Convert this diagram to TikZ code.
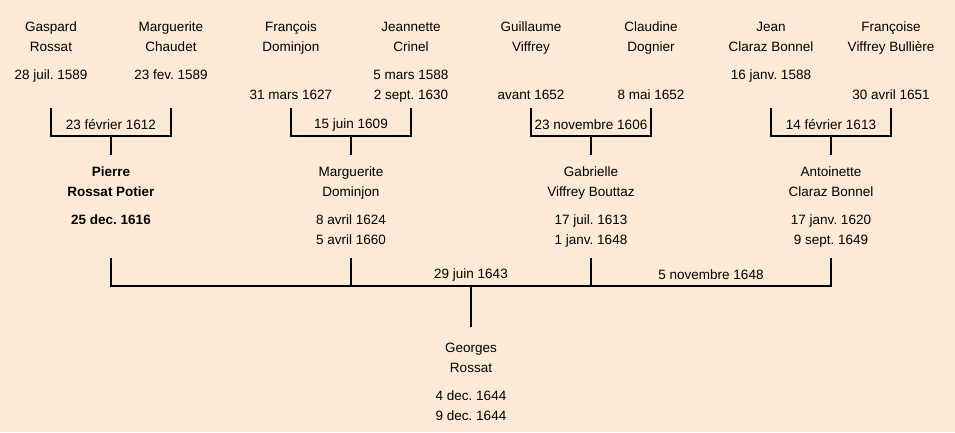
\documentclass[tikz,border=0pt]{standalone}
\usepackage{fontspec}
\setmainfont{Liberation Sans}
\frenchspacing
\definecolor{bg}{HTML}{FCEAD7}
\begin{document}
\begin{tikzpicture}[x=1pt,y=-1pt,
  person/.style={anchor=north,align=center,inner sep=0pt,font={\fontsize{13.5}{20}\selectfont\frenchspacing}},
  lbl/.style={inner sep=0pt,font={\fontsize{13.5}{16}\selectfont\frenchspacing}},
  link/.style={line width=2pt}]
\fill[bg] (0,0) rectangle (955,432);
\useasboundingbox (0,0) rectangle (955,432);
% parents
\node[person] (gaspard) at (51,22) {Gaspard\\Rossat\\[8pt]28 juil. 1589\\\mbox{}};
\node[person] (marguerite1) at (171,22) {Marguerite\\Chaudet\\[8pt]23 fev. 1589\\\mbox{}};
\node[person] (francois) at (291,22) {François\\Dominjon\\[8pt]\mbox{}\\31 mars 1627};
\node[person] (jeannette) at (411,22) {Jeannette\\Crinel\\[8pt]5 mars 1588\\2 sept. 1630};
\node[person] (guillaume) at (531,22) {Guillaume\\Viffrey\\[8pt]\mbox{}\\avant 1652};
\node[person] (claudine) at (651,22) {Claudine\\Dognier\\[8pt]\mbox{}\\8 mai 1652};
\node[person] (jean) at (771,22) {Jean\\Claraz Bonnel\\[8pt]16 janv. 1588\\\mbox{}};
\node[person] (francoise) at (891,22) {Françoise\\Viffrey Bullière\\[8pt]\mbox{}\\30 avril 1651};
% children
\node[person,font={\fontsize{13.5}{20}\selectfont\bfseries\frenchspacing}] (pierre) at (111,167) {Pierre\\Rossat Potier\\[8pt]25 dec. 1616};
\node[person] (marguerite2) at (351,167) {Marguerite\\Dominjon\\[8pt]8 avril 1624\\5 avril 1660};
\node[person] (gabrielle) at (591,167) {Gabrielle\\Viffrey Bouttaz\\[8pt]17 juil. 1613\\1 janv. 1648};
\node[person] (antoinette) at (831,167) {Antoinette\\Claraz Bonnel\\[8pt]17 janv. 1620\\9 sept. 1649};
% grandchild
\node[person] (georges) at (471,343) {Georges\\Rossat\\[8pt]4 dec. 1644\\9 dec. 1644};
% marriage points
\coordinate (ptop) at (0,108);
\coordinate (m1) at (111,136);
\coordinate (m2) at (351,136);
\coordinate (m3) at (591,136);
\coordinate (m4) at (831,136);
\coordinate (ctop) at (0,258);
\coordinate (cbot) at (0,286);
\coordinate (m5) at (471,286);
% parent brackets
\draw[link] (gaspard |- ptop) |- (m1) -| (marguerite1 |- ptop);
\draw[link] (m1) -- ++(0,19);
\draw[link] (francois |- ptop) |- (m2) -| (jeannette |- ptop);
\draw[link] (m2) -- ++(0,19);
\draw[link] (guillaume |- ptop) |- (m3) -| (claudine |- ptop);
\draw[link] (m3) -- ++(0,19);
\draw[link] (jean |- ptop) |- (m4) -| (francoise |- ptop);
\draw[link] (m4) -- ++(0,19);
\node[lbl] (d1) at (111,125) {23 février 1612};
\node[lbl] (d2) at (351,125) {15 juin 1609};
\node[lbl] (d3) at (591,125) {23 novembre 1606};
\node[lbl] (d4) at (831,125) {14 février 1613};
% children bracket
\draw[link] (pierre |- ctop) |- (antoinette |- cbot) -- (antoinette |- ctop);
\draw[link] (marguerite2 |- ctop) -- (marguerite2 |- cbot);
\draw[link] (gabrielle |- ctop) -- (gabrielle |- cbot);
\draw[link] (m5) -- ++(0,41);
\node[lbl] (d5) at (471,275) {29 juin 1643};
\node[lbl] (d6) at (711,275) {5 novembre 1648};
\end{tikzpicture}
\end{document}
